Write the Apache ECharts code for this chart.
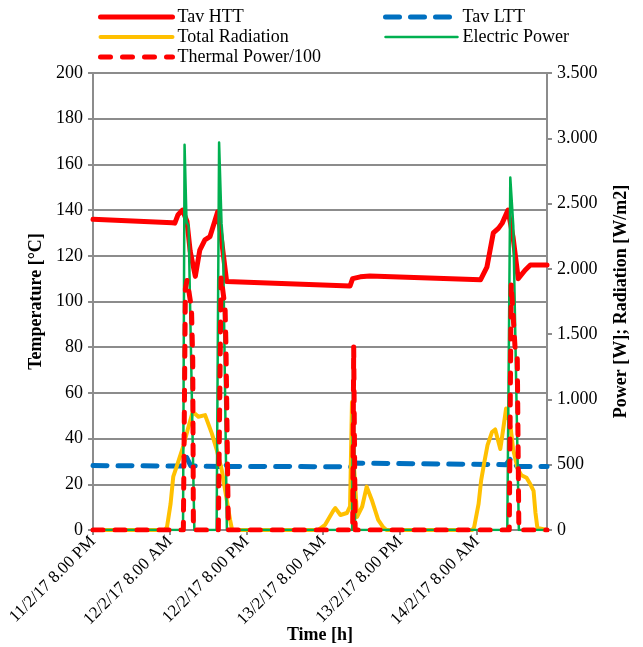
<!DOCTYPE html>
<html>
<head>
<meta charset="utf-8">
<script src="https://cdn.jsdelivr.net/npm/echarts@6/dist/echarts.min.js"></script>
<style>
  html, body { margin: 0; padding: 0; background: #fff; }
  #chart { width: 643px; height: 647px; }
</style>
</head>
<body>
<div id="chart"></div>
<script>
// Time axis: hours elapsed since 11/2/17 8.00 PM, ticks every 12 h
const tickLabels = ['11/2/17 8.00 PM', '12/2/17 8.00 AM', '12/2/17 8.00 PM',
                    '13/2/17 8.00 AM', '13/2/17 8.00 PM', '14/2/17 8.00 AM'];

// Tav HTT [°C]
const httHours = [0, 12.4, 12.8, 13.3, 14.0, 14.7, 15.2, 16.0, 16.7, 17.5, 18.3, 19.1, 19.5, 20.1, 20.9,
                  40.2, 40.6, 41.8, 43.3, 60.6, 61.6, 62.6, 63.4, 64.0, 64.9, 65.7, 66.5, 67.6, 68.4, 71];
const httTemp = [136, 134.5, 134.3, 138, 140, 135, 122, 111, 122.5, 127, 128.4, 135.7, 139.3, 127, 108.7,
                 106.8, 110, 110.8, 111.2, 109.5, 115, 130, 132, 134.3, 140, 128, 110, 113.8, 116, 116];

// Tav LTT [°C]
const lttHours = [0, 14.0, 14.6, 15.3, 20.0, 20.4, 21.0, 40.3, 40.7, 64.6, 65.4, 66.3, 71];
const lttTemp = [28.2, 28.0, 32, 28.0, 27.8, 30, 27.8, 27.7, 29.3, 28.6, 31.5, 27.8, 27.8];

// Total Radiation [W/m2]
const radHours = [0, 11.27, 11.58, 12.13, 12.55, 13.08, 14.1, 14.87, 15.6, 16.48, 17.53, 18.58, 19.36, 20.14, 20.92, 21.44, 21.75,
                  35.2, 36.3, 37.6, 37.9, 38.7, 39.7, 40.2, 40.5, 40.8, 41.3, 42.1, 42.8, 43.6, 44.6, 45.4, 45.9,
                  59.3, 59.6, 60.3, 60.7, 61.2, 61.7, 62.4, 62.9, 63.7, 64.2, 64.6, 65.3, 65.7, 66.4, 67.0, 67.8, 68.4, 68.9, 69.2, 69.5, 69.8, 71];
const radValue = [0, 0, 25, 200, 408, 485, 638, 780, 906, 867, 880, 740, 612, 459, 230, 77, 0,
                  0, 40, 150, 168, 115, 130, 180, 980, 500, 100, 180, 332, 230, 77, 20, 0,
                  0, 20, 200, 380, 520, 650, 750, 770, 620, 790, 930, 790, 620, 470, 420, 400, 350, 300, 130, 15, 0, 0];

// Electric Power [W]
const elecHours = [0, 14.08, 14.32, 14.63, 14.95, 15.85, 19.33, 19.72, 20.1, 20.34, 20.94,
                   40.53, 40.69, 41.0, 64.79, 65.26, 65.73, 66.6, 71];
const elecPower = [0, 0, 2950, 2360, 2330, 0, 0, 2968, 2350, 2200, 0,
                   0, 1400, 0, 0, 2700, 2330, 0, 0];

// Thermal Power/100 [W]
const thermHours = [0, 14.13, 14.45, 14.71, 15.4, 15.6, 15.7, 19.6, 20.03, 20.66, 20.8, 21.17,
                    40.61, 40.77, 41.0, 65.1, 65.4, 66.0, 66.35, 66.6, 71];
const thermPower = [0, 0, 1850, 1915, 1700, 1300, 0, 0, 1937, 1700, 1400, 0,
                    0, 1404, 0, 0, 1890, 1400, 1350, 0, 0];

const zip = (xs, ys) => xs.map((x, i) => [x, ys[i]]);

const serif = 'Liberation Serif';
const gridGray = '#8c8c8c';

// name, colour, line width, dash pattern
const styles = {
  'Tav HTT':           ['#ff0000', 5,   'solid'],
  'Tav LTT':           ['#0070c0', 5,   [14, 11]],
  'Total Radiation':   ['#ffc000', 4,   'solid'],
  'Electric Power':    ['#00b050', 2.5, 'solid'],
  'Thermal Power/100': ['#ff0000', 5,   [10, 12]]
};

const chart = echarts.init(document.getElementById('chart'), null, { renderer: 'canvas' });

function lineSeries(name, xs, ys, axis, z) {
  const [color, width, dash] = styles[name];
  return {
    name: name,
    type: 'line',
    yAxisIndex: axis,
    data: zip(xs, ys),
    symbol: 'none',
    showSymbol: false,
    z: z,
    lineStyle: { color: color, width: width, type: dash, cap: 'round', join: 'round' },
    itemStyle: { color: color }
  };
}

function legendItem(name) {
  const [color, width, dash] = styles[name];
  return { name: name, lineStyle: { color: color, width: width, type: dash, cap: 'round' } };
}

const legendText = { fontFamily: serif, fontSize: 18, color: '#000', lineHeight: 20 };
const legendBase = {
  top: 7, orient: 'vertical', padding: 0, itemGap: 0,
  itemWidth: 72, itemHeight: 14,
  itemStyle: { opacity: 0 },
  textStyle: legendText
};

chart.setOption({
  animation: false,
  backgroundColor: '#fff',
  legend: [
    Object.assign({ left: 98, data: ['Tav HTT', 'Total Radiation', 'Thermal Power/100'].map(legendItem) }, legendBase),
    Object.assign({ left: 383, data: ['Tav LTT', 'Electric Power'].map(legendItem) }, legendBase)
  ],
  grid: { left: 93, right: 96, top: 73, bottom: 117, containLabel: false, outerBoundsMode: 'none' },
  xAxis: {
    type: 'value',
    min: 0, max: 71, interval: 12,
    name: 'Time [h]',
    nameLocation: 'middle',
    nameGap: 96,
    nameMoveOverlap: false,
    nameTextStyle: { fontFamily: serif, fontSize: 18, fontWeight: 'bold', color: '#000' },
    axisLine: { show: true, lineStyle: { color: gridGray, width: 2 } },
    axisTick: { show: true, length: 5, lineStyle: { color: gridGray, width: 2 } },
    splitLine: { show: false },
    axisLabel: {
      rotate: 45, margin: 9,
      fontFamily: serif, fontSize: 17, color: '#000',
      showMaxLabel: false,
      formatter: v => (v % 12 === 0 && v / 12 < tickLabels.length) ? tickLabels[v / 12] : ''
    }
  },
  yAxis: [
    {
      type: 'value', min: 0, max: 200, interval: 20,
      name: 'Temperature [°C]',
      nameLocation: 'middle', nameRotate: 90, nameGap: 47,
      nameTextStyle: { fontFamily: serif, fontSize: 18, fontWeight: 'bold', color: '#000' },
      axisLine: { show: true, lineStyle: { color: gridGray, width: 2 } },
      axisTick: { show: true, length: 5, lineStyle: { color: gridGray, width: 2 } },
      splitLine: { show: true, lineStyle: { color: gridGray, width: 2 } },
      axisLabel: { fontFamily: serif, fontSize: 18, color: '#000', margin: 10 }
    },
    {
      type: 'value', min: 0, max: 3500, interval: 500, position: 'right',
      name: 'Power [W]; Radiation [W/m2]',
      nameLocation: 'middle', nameRotate: 90, nameGap: 65,
      nameTextStyle: { fontFamily: serif, fontSize: 18, fontWeight: 'bold', color: '#000' },
      axisLine: { show: true, lineStyle: { color: gridGray, width: 2 } },
      axisTick: { show: true, length: 5, lineStyle: { color: gridGray, width: 2 } },
      splitLine: { show: false },
      axisLabel: {
        fontFamily: serif, fontSize: 18, color: '#000', margin: 10,
        formatter: v => v >= 1000 ? Math.floor(v / 1000) + '.' + String(v % 1000).padStart(3, '0') : String(v)
      }
    }
  ],
  series: [
    lineSeries('Tav HTT', httHours, httTemp, 0, 2),
    lineSeries('Tav LTT', lttHours, lttTemp, 0, 3),
    lineSeries('Total Radiation', radHours, radValue, 1, 4),
    lineSeries('Electric Power', elecHours, elecPower, 1, 5),
    lineSeries('Thermal Power/100', thermHours, thermPower, 1, 6)
  ]
});
</script>
</body>
</html>
